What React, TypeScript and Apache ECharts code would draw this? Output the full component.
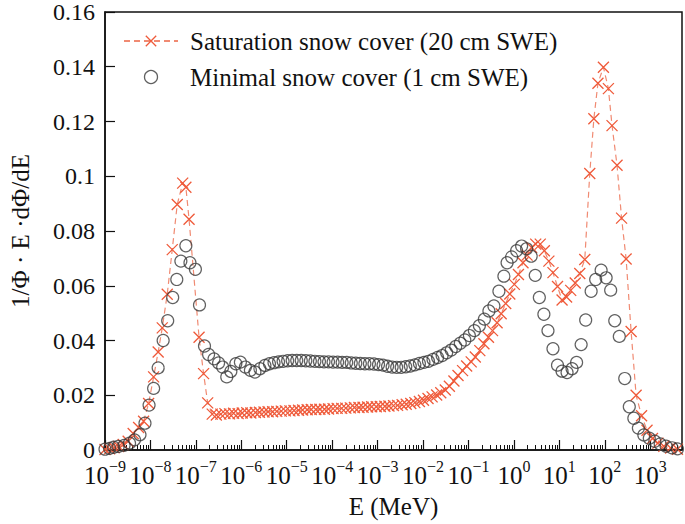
import React, { useEffect, useRef } from 'react';
import * as echarts from 'echarts';

// Saturation snow cover (20 cm SWE): log10(E / MeV) and 1/Φ·E·dΦ/dE
const satLogE = [
  -9.0, -8.9, -8.8, -8.7, -8.6, -8.49, -8.38, -8.26, -8.15, -8.04, -7.93, -7.83, -7.74, -7.63, -7.52,
  -7.41, -7.29, -7.22, -7.15, -6.93, -6.83, -6.74, -6.64, -6.55, -6.45, -6.36, -6.26, -6.17, -6.07,
  -5.98, -5.88, -5.79, -5.69, -5.6, -5.5, -5.41, -5.31, -5.22, -5.12, -5.03, -4.93, -4.84, -4.74,
  -4.65, -4.55, -4.46, -4.36, -4.27, -4.17, -4.08, -3.98, -3.89, -3.79, -3.7, -3.6, -3.51, -3.41,
  -3.32, -3.22, -3.13, -3.03, -2.94, -2.84, -2.75, -2.65, -2.56, -2.46, -2.37, -2.27, -2.18, -2.08,
  -1.99, -1.89, -1.8, -1.7, -1.61, -1.51, -1.42, -1.32, -1.23, -1.13, -1.04, -0.94, -0.85, -0.75,
  -0.66, -0.56, -0.47, -0.37, -0.28, -0.18, -0.09, 0.01, 0.1, 0.2, 0.29, 0.39, 0.48, 0.58, 0.67,
  0.77, 0.86, 0.96, 1.06, 1.16, 1.25, 1.35, 1.45, 1.56, 1.67, 1.76, 1.85, 1.97, 2.08, 2.16, 2.27,
  2.37, 2.47, 2.58, 2.69, 2.81, 2.93, 3.05, 3.17, 3.3, 3.45, 3.6,
];
const satFlux = [
  0.0002, 0.0004, 0.0008, 0.0013, 0.002, 0.0032, 0.006, 0.0082, 0.0105, 0.017, 0.0267, 0.0358, 0.0446, 0.0569, 0.0732,
  0.0897, 0.0975, 0.096, 0.0843, 0.0412, 0.0279, 0.0172, 0.0131, 0.0128, 0.0131, 0.0133, 0.0132, 0.0134, 0.0133,
  0.0135, 0.0136, 0.0135, 0.0137, 0.0138, 0.0139, 0.014, 0.014, 0.0141, 0.0142, 0.0143, 0.0143, 0.0144, 0.0145,
  0.0146, 0.0147, 0.0148, 0.0148, 0.0149, 0.0149, 0.015, 0.0151, 0.0152, 0.0152, 0.0153, 0.0154, 0.0155, 0.0155,
  0.0156, 0.0157, 0.0158, 0.0158, 0.0159, 0.016, 0.0161, 0.0162, 0.0163, 0.0165, 0.0167, 0.017, 0.0173, 0.0177,
  0.0182, 0.0188, 0.0194, 0.0201, 0.0209, 0.0219, 0.0233, 0.0252, 0.0272, 0.029, 0.0307, 0.0322, 0.034, 0.0363,
  0.0388, 0.0412, 0.0436, 0.0465, 0.0498, 0.0535, 0.057, 0.0605, 0.0641, 0.0684, 0.0712, 0.074, 0.0752, 0.0752, 0.0728,
  0.069, 0.0648, 0.0597, 0.0548, 0.0559, 0.0583, 0.061, 0.0645, 0.0696, 0.101, 0.121, 0.134, 0.1398, 0.132, 0.1185, 0.104,
  0.0847, 0.0698, 0.0433, 0.02, 0.0125, 0.0072, 0.0042, 0.0025, 0.0014, 0.0007, 0.0003,
];

// Minimal snow cover (1 cm SWE)
const minLogE = [
  -9.0, -8.9, -8.81, -8.71, -8.58, -8.46, -8.35, -8.23, -8.12, -8.03, -7.93, -7.83, -7.72, -7.62, -7.51,
  -7.42, -7.33, -7.22, -7.13, -7.01, -6.92, -6.81, -6.72, -6.6, -6.5, -6.41, -6.32, -6.23, -6.12, -6.02,
  -5.91, -5.8, -5.7, -5.59, -5.48, -5.38, -5.28, -5.18, -5.08, -4.98, -4.88, -4.78, -4.68, -4.58, -4.48,
  -4.38, -4.28, -4.18, -4.08, -3.98, -3.88, -3.78, -3.68, -3.58, -3.48, -3.38, -3.28, -3.18, -3.08, -2.98,
  -2.88, -2.78, -2.68, -2.58, -2.48, -2.38, -2.28, -2.18, -2.08, -1.98, -1.88, -1.78, -1.68, -1.58, -1.48,
  -1.38, -1.28, -1.18, -1.08, -0.98, -0.87, -0.76, -0.65, -0.55, -0.44, -0.33, -0.22, -0.15, -0.05, 0.06,
  0.17, 0.28, 0.38, 0.47, 0.56, 0.66, 0.75, 0.86, 0.96, 1.06, 1.17, 1.28, 1.38, 1.48, 1.58, 1.7, 1.8,
  1.92, 2.03, 2.13, 2.22, 2.32, 2.44, 2.54, 2.64, 2.74, 2.86, 2.98, 3.1, 3.22, 3.35, 3.48, 3.6,
];
const minFlux = [
  0.0003, 0.0006, 0.001, 0.0013, 0.0017, 0.0025, 0.0037, 0.0056, 0.0098, 0.0164, 0.0225, 0.03, 0.04, 0.0472, 0.0557,
  0.0623, 0.069, 0.0746, 0.0684, 0.066, 0.053, 0.038, 0.0349, 0.0333, 0.0318, 0.0303, 0.0267, 0.0287, 0.0315, 0.0321,
  0.0303, 0.0291, 0.0285, 0.0297, 0.0309, 0.0315, 0.0319, 0.0322, 0.0324, 0.0326, 0.0327, 0.0327, 0.0327, 0.0326, 0.0325,
  0.0324, 0.0323, 0.0322, 0.0322, 0.0321, 0.0321, 0.032, 0.032, 0.0318, 0.0317, 0.0316, 0.0315, 0.0315, 0.0314, 0.0312,
  0.031, 0.0306, 0.0303, 0.0302, 0.0302, 0.0304, 0.0307, 0.0311, 0.0316, 0.032, 0.0324, 0.0331, 0.0338, 0.0345, 0.0355,
  0.0365, 0.0378, 0.039, 0.0402, 0.0418, 0.0436, 0.0454, 0.0478, 0.0508, 0.0526, 0.058, 0.0635, 0.0684, 0.0705, 0.0728,
  0.0745, 0.0735, 0.0708, 0.0638, 0.0557, 0.0496, 0.0436, 0.037, 0.031, 0.0288, 0.0283, 0.0297, 0.032, 0.0385, 0.0475, 0.058, 0.0623,
  0.0657, 0.0629, 0.0584, 0.0472, 0.0415, 0.0261, 0.0158, 0.0116, 0.008, 0.0055, 0.0043, 0.0032, 0.0022, 0.0014, 0.0008, 0.0004,
];

const xExponents = [-9, -8, -7, -6, -5, -4, -3, -2, -1, 0, 1, 2, 3];
const X_MIN = -9;
const X_MAX = 3.7;
const Y_MIN = 0;
const Y_MAX = 0.16;
const Y_STEP = 0.02;

const SAT_NAME = 'Saturation snow cover (20 cm SWE)';
const MIN_NAME = 'Minimal snow cover (1 cm SWE)';

export default function App() {
  const ref = useRef<HTMLDivElement>(null);

  useEffect(() => {
    if (!ref.current) return;
    const chart = echarts.init(ref.current, null, { renderer: 'svg' });
    const font = '"Liberation Serif", "Times New Roman", serif';
    const ink = '#111';

    const minors: number[] = [];
    xExponents.forEach((n) => {
      for (let k = 2; k <= 9; k++) {
        const v = n + Math.log10(k);
        if (v <= X_MAX) minors.push(v);
      }
    });

    const supText = (n: number) => (n < 0 ? '\u2212' + String(-n) : String(n));

    chart.setOption({
      animation: false,
      backgroundColor: '#fff',
      grid: {
        left: 91,
        right: 3,
        top: 10,
        bottom: 72,
        show: true,
        borderColor: ink,
        borderWidth: 1.5,
        backgroundColor: 'transparent',
      },
      legend: {
        data: [SAT_NAME, MIN_NAME],
        orient: 'vertical',
        left: 118,
        top: 23,
        itemWidth: 54,
        itemHeight: 13,
        itemGap: 10,
        selectedMode: false,
        itemStyle: { borderWidth: 1.3 },
        textStyle: {
          fontFamily: font,
          fontSize: 25,
          color: ink,
          lineHeight: 26,
          padding: [0, 0, 0, 7],
        },
      },
      xAxis: [
        {
          type: 'value',
          min: X_MIN,
          max: X_MAX,
          interval: 1,
          position: 'bottom',
          axisLine: { show: true, onZero: false, lineStyle: { color: ink, width: 1.5 } },
          axisTick: {
            show: true,
            inside: true,
            length: 10,
            customValues: xExponents,
            lineStyle: { color: ink, width: 1.2 },
          },
          axisLabel: {
            customValues: xExponents,
            margin: 8,
            formatter: (v: number) =>
              Number.isInteger(v) ? `{b|10}{s|${supText(v)}}` : '',
            rich: {
              b: { fontFamily: font, fontSize: 25, color: ink, lineHeight: 30, verticalAlign: 'bottom' },
              s: { fontFamily: font, fontSize: 16, color: ink, lineHeight: 30, verticalAlign: 'top' },
            },
          },
          splitLine: { show: false },
          name: 'E (MeV)',
          nameLocation: 'middle',
          nameGap: 44,
          nameTextStyle: { fontFamily: font, fontSize: 25, color: ink },
        },
        {
          type: 'value',
          min: X_MIN,
          max: X_MAX,
          position: 'bottom',
          axisLine: { show: false, onZero: false },
          axisTick: {
            show: true,
            inside: true,
            length: 5,
            customValues: minors,
            lineStyle: { color: ink, width: 1 },
          },
          axisLabel: { show: false },
          splitLine: { show: false },
        },
      ],
      yAxis: {
        type: 'value',
        min: Y_MIN,
        max: Y_MAX,
        interval: Y_STEP,
        axisLine: { show: true, onZero: false, lineStyle: { color: ink, width: 1.5 } },
        axisTick: { show: true, inside: true, length: 10, lineStyle: { color: ink, width: 1.2 } },
        axisLabel: { fontFamily: font, fontSize: 24, color: ink, margin: 10 },
        splitLine: { show: false },
        name: '1/\u03A6 \u00B7 E \u00B7d\u03A6/dE',
        nameLocation: 'middle',
        nameRotate: 90,
        nameGap: 72,
        nameTextStyle: { fontFamily: font, fontSize: 25, color: ink },
      },
      series: [
        {
          name: SAT_NAME,
          type: 'line',
          xAxisIndex: 0,
          data: satLogE.map((x, i) => [x, satFlux[i]]),
          symbol: 'path://M0,0L10,10M10,0L0,10',
          symbolSize: 11,
          showSymbol: true,
          lineStyle: { color: '#f08a72', width: 1.2, type: [6, 4] },
          itemStyle: { color: '#ef5a3a', borderColor: '#ef5a3a', borderWidth: 1.3 },
          z: 2,
        },
        {
          name: MIN_NAME,
          type: 'scatter',
          xAxisIndex: 0,
          data: minLogE.map((x, i) => [x, minFlux[i]]),
          symbol: 'circle',
          symbolSize: 12,
          itemStyle: { color: 'rgba(255,255,255,0)', borderColor: '#3a3a3a', borderWidth: 1.2 },
          z: 3,
        },
      ],
    });

    return () => chart.dispose();
  }, []);

  return (
    <div
      ref={ref}
      style={{ position: 'absolute', left: 0, top: 0, width: 685, height: 524 }}
    />
  );
}
